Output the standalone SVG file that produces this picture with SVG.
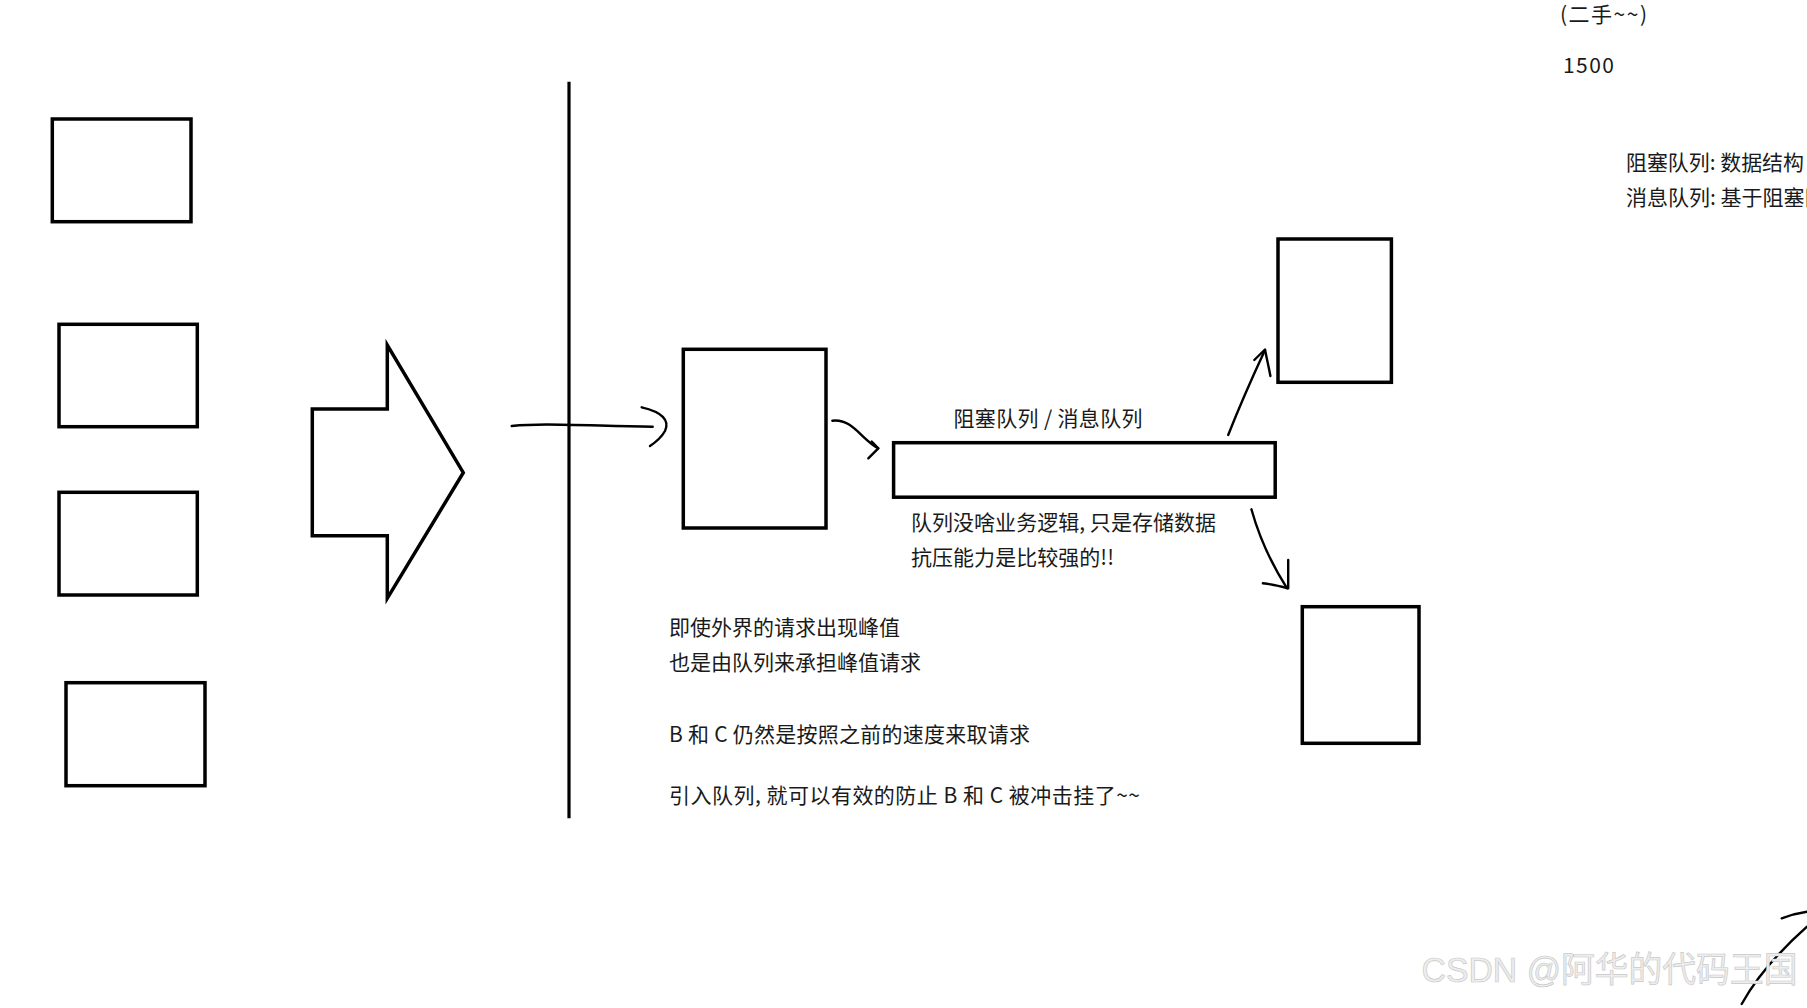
<svg xmlns="http://www.w3.org/2000/svg" width="1807" height="1008" viewBox="0 0 1807 1008">
<style>
.box{fill:none;stroke:#000;stroke-width:3.5}
.ln{fill:none;stroke:#000;stroke-width:2.4;stroke-linecap:round;stroke-linejoin:round}
.t{font-family:"Noto Sans CJK SC","Noto Sans",sans-serif;font-size:21px;fill:#1a1a1a}
.wm{font-family:"Liberation Sans","Noto Sans CJK SC",sans-serif;font-size:35px;fill:#eeeeee;stroke:#c9c9c9;stroke-width:0.7}
</style>
<rect width="1807" height="1008" fill="#fff"/>
<g id="client-1"><rect class="box" x="52.3" y="119" width="138.7" height="102.7"/></g>
<g id="client-2"><rect class="box" x="59" y="324.3" width="138.3" height="102.4"/></g>
<g id="client-3"><rect class="box" x="59" y="492.3" width="138.3" height="102.7"/></g>
<g id="client-4"><rect class="box" x="66" y="682.7" width="139" height="103"/></g>
<g id="big-arrow"><polygon class="box" points="312.3,409 387.3,409 387.3,345 463.3,472.7 387.3,598.3 387.3,535.7 312.3,535.7"/></g>
<g id="divider"><line x1="569" y1="81.7" x2="569" y2="818.3" stroke="#000" stroke-width="3.2"/></g>
<g id="server-a"><rect class="box" x="683.3" y="349.3" width="142.7" height="178.7"/></g>
<g id="queue"><rect class="box" x="893.6" y="442.7" width="381.6" height="54.5"/>
<text class="t" x="953.5" y="426" textLength="189" lengthAdjust="spacing">阻塞队列 / 消息队列</text></g>
<g id="server-b"><rect class="box" x="1278" y="239" width="113.4" height="143.3"/></g>
<g id="server-c"><rect class="box" x="1302.3" y="606.7" width="116.7" height="136.6"/></g>
<g id="connectors">
<path class="ln" d="M511.7,426 C540,423 570,425 652.7,426.7"/>
<path class="ln" d="M641.7,407.3 C662,412 670,420 665,431 C661,438 656,442 650,446"/>
<path class="ln" d="M832.3,420.7 C852,418 862,440 878.3,448.3"/>
<path class="ln" d="M871.7,441.5 L878.3,448.3 L868.3,458.3"/>
<path class="ln" d="M1228.2,435 C1240,405 1252,378 1265,350"/>
<path class="ln" d="M1254.3,360 L1265,349.5 C1267,360 1269,368 1270.4,376"/>
<path class="ln" d="M1251.4,509.3 C1260,540 1274,568 1287.1,588.3"/>
<path class="ln" d="M1288.2,560 L1288.2,588.3 C1279,586 1271,584 1262.9,583.3"/>
</g>
<g id="notes">
<text class="t" x="1560" y="22" textLength="87" lengthAdjust="spacing">(二手~~)</text>
<text class="t" x="1563" y="72.5" textLength="51" lengthAdjust="spacing">1500</text>
<text class="t" x="1626" y="170" textLength="178" lengthAdjust="spacingAndGlyphs">阻塞队列: 数据结构</text>
<text class="t" x="1626" y="205">消息队列: 基于阻塞队列</text>
<text class="t" x="911" y="529.5" textLength="305" lengthAdjust="spacing">队列没啥业务逻辑, 只是存储数据</text>
<text class="t" x="911" y="565" textLength="203" lengthAdjust="spacing">抗压能力是比较强的!!</text>
<text class="t" x="669" y="634.5">即使外界的请求出现峰值</text>
<text class="t" x="669" y="670">也是由队列来承担峰值请求</text>
<text class="t" x="669" y="741.5" textLength="361" lengthAdjust="spacing">B 和 C 仍然是按照之前的速度来取请求</text>
<text class="t" x="669" y="803" textLength="471" lengthAdjust="spacing">引入队列, 就可以有效的防止 B 和 C 被冲击挂了~~</text>
</g>
<g id="stroke-br">
<path class="ln" d="M1781.7,918.3 C1790,915 1798,913 1807,911.7"/>
<path class="ln" d="M1741.7,1004 C1755,980 1775,955 1807,926.7"/>
</g>
<text class="wm" x="1421.5" y="981.5" textLength="376" lengthAdjust="spacingAndGlyphs">CSDN @阿华的代码王国</text>
</svg>
